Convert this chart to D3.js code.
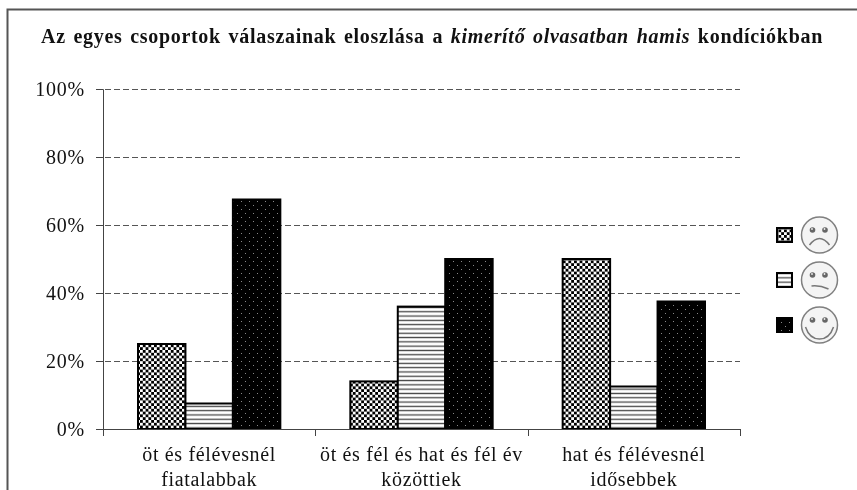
<!DOCTYPE html>
<html>
<head>
<meta charset="utf-8">
<script src="https://cdnjs.cloudflare.com/ajax/libs/d3/7.8.5/d3.min.js"></script>
<style>
html, body { margin: 0; padding: 0; background: #fff; }
svg { display: block; filter: blur(0.35px); }
text { font-family: "Liberation Serif", serif; fill: #111; }
</style>
</head>
<body>
<div id="chart"></div>
<script>
const WIDTH = 857, HEIGHT = 490;
const LEFT = 103, RIGHT = 740, TOP = 89, BOTTOM = 429;

const categories = [
    ["öt és félévesnél", "fiatalabbak"],
    ["öt és fél és hat és fél év", "közöttiek"],
    ["hat és félévesnél", "idősebbek"]
];
const sad = [25, 14, 50];
const neutral = [7.5, 36, 12.5];
const happy = [67.5, 50, 37.5];
const yTicks = [0, 20, 40, 60, 80, 100];

const seriesList = [
    { key: "sad", values: sad, fill: "url(#checker)" },
    { key: "neutral", values: neutral, fill: "url(#stripes)" },
    { key: "happy", values: happy, fill: "url(#dots)" }
];

var svg = d3.select("#chart").append("svg")
    .attr("width", WIDTH)
    .attr("height", HEIGHT);

// pattern fills
var defs = svg.append("defs");
var checker = defs.append("pattern").attr("id", "checker")
    .attr("patternUnits", "userSpaceOnUse").attr("width", 5.6).attr("height", 5.6);
checker.append("rect").attr("width", 5.6).attr("height", 5.6).attr("fill", "#fff");
checker.append("rect").attr("width", 2.8).attr("height", 2.8).attr("fill", "#000");
checker.append("rect").attr("x", 2.8).attr("y", 2.8).attr("width", 2.8).attr("height", 2.8).attr("fill", "#000");

var stripes = defs.append("pattern").attr("id", "stripes")
    .attr("patternUnits", "userSpaceOnUse").attr("width", 4.3).attr("height", 4.3);
stripes.append("rect").attr("width", 4.3).attr("height", 4.3).attr("fill", "#fff");
stripes.append("rect").attr("y", 1.5).attr("width", 4.3).attr("height", 1.3).attr("fill", "#444");

var dots = defs.append("pattern").attr("id", "dots")
    .attr("patternUnits", "userSpaceOnUse").attr("width", 8).attr("height", 8);
dots.append("rect").attr("width", 8).attr("height", 8).attr("fill", "#000");
dots.append("rect").attr("x", 1).attr("y", 1).attr("width", 1).attr("height", 1).attr("fill", "#888");
dots.append("rect").attr("x", 5).attr("y", 5).attr("width", 1).attr("height", 1).attr("fill", "#888");

// outer frame, runs off the right and bottom of the picture
svg.append("path")
    .attr("d", "M7.5," + HEIGHT + "V9.5H" + WIDTH)
    .attr("fill", "none")
    .attr("stroke", "#555")
    .attr("stroke-width", 2);

var xScale = d3.scaleBand()
    .domain(d3.range(categories.length))
    .range([LEFT, RIGHT])
    .paddingInner(0)
    .paddingOuter(0);

var yScale = d3.scaleLinear()
    .domain([0, 100])
    .range([BOTTOM, TOP]);

var innerScale = d3.scaleBand()
    .domain(seriesList.map(function (s) { return s.key; }))
    .range([35, xScale.bandwidth() - 35]);

// gridlines
svg.append("g").selectAll("line")
    .data(yTicks.filter(function (t) { return t > 0; }))
    .enter()
    .append("line")
    .attr("x1", LEFT - 7)
    .attr("x2", RIGHT)
    .attr("y1", function (d) { return Math.round(yScale(d)) + 0.5; })
    .attr("y2", function (d) { return Math.round(yScale(d)) + 0.5; })
    .attr("stroke", "#555")
    .attr("stroke-dasharray", "6,3");

// bars
seriesList.forEach(function (s) {
    svg.append("g").selectAll("rect")
        .data(s.values)
        .enter()
        .append("rect")
        .attr("x", function (d, i) { return xScale(i) + innerScale(s.key); })
        .attr("y", function (d) { return yScale(d); })
        .attr("width", innerScale.bandwidth())
        .attr("height", function (d) { return BOTTOM - yScale(d); })
        .attr("fill", s.fill)
        .attr("stroke", "#000")
        .attr("stroke-width", 2);
});

// axes
var yAxis = d3.axisLeft(yScale)
    .tickValues(yTicks)
    .tickSize(7)
    .tickPadding(11)
    .tickFormat(function (d) { return d + "%"; });
var yG = svg.append("g")
    .attr("transform", "translate(" + LEFT + ",0)")
    .call(yAxis);
yG.select(".domain").attr("stroke", "#444");
yG.selectAll(".tick line").attr("stroke", "#444");
yG.selectAll("text")
    .attr("font-family", "Liberation Serif")
    .attr("font-size", 20)
    .attr("letter-spacing", 0.8);

var xAxis = d3.axisBottom(xScale)
    .tickSize(0)
    .tickFormat("");
var xG = svg.append("g")
    .attr("transform", "translate(0," + BOTTOM + ")")
    .call(xAxis);
xG.select(".domain").attr("stroke", "#444");

// ticks sit between the categories
svg.append("g").selectAll("line")
    .data(d3.range(categories.length + 1))
    .enter()
    .append("line")
    .attr("x1", function (d) { return Math.round(LEFT + d * xScale.step()) + 0.5; })
    .attr("x2", function (d) { return Math.round(LEFT + d * xScale.step()) + 0.5; })
    .attr("y1", BOTTOM)
    .attr("y2", BOTTOM + 7)
    .attr("stroke", "#444");

// category labels
var labels = svg.append("g").selectAll("text")
    .data(categories)
    .enter()
    .append("text")
    .attr("text-anchor", "middle")
    .attr("font-size", 20)
    .attr("letter-spacing", 0.65)
    .attr("y", 461);
labels.selectAll("tspan")
    .data(function (d, i) { return d.map(function (t) { return { t: t, i: i }; }); })
    .enter()
    .append("tspan")
    .attr("x", function (d) { return xScale(d.i) + xScale.bandwidth() / 2; })
    .attr("dy", function (d, j) { return j === 0 ? 0 : 25; })
    .text(function (d) { return d.t; });

// title
var title = svg.append("text")
    .attr("x", 432)
    .attr("y", 43)
    .attr("text-anchor", "middle")
    .attr("font-size", 20)
    .attr("letter-spacing", 0.7)
    .attr("word-spacing", 2)
    .attr("font-weight", "bold");
title.append("tspan").text("Az egyes csoportok válaszainak eloszlása a ");
title.append("tspan").attr("font-style", "italic").text("kimerítő olvasatban hamis");
title.append("tspan").text(" kondíciókban");

// legend with smiley faces
var legendY = d3.scalePoint().domain(seriesList.map(function (s) { return s.key; })).range([235, 325]);
var mouths = {
    sad: "M-10,10Q0,-3 10,10",
    neutral: "M-8,6Q0,5 9,9",
    happy: "M-14,2Q-10,14 0,14Q10,14 14,2"
};
var legend = svg.append("g").selectAll("g")
    .data(seriesList)
    .enter()
    .append("g")
    .attr("transform", function (s) { return "translate(0," + legendY(s.key) + ")"; });
legend.append("rect")
    .attr("x", 777)
    .attr("y", -7)
    .attr("width", 15)
    .attr("height", 14)
    .attr("fill", function (s) { return s.fill; })
    .attr("stroke", "#000")
    .attr("stroke-width", 2);
var face = legend.append("g")
    .attr("transform", "translate(819.5,0)");
face.append("circle")
    .attr("r", 18)
    .attr("fill", "#f4f4f4")
    .attr("stroke", "#808080")
    .attr("stroke-width", 1.5);
face.append("path")
    .attr("d", function (s) { return mouths[s.key]; })
    .attr("fill", "none")
    .attr("stroke", "#777")
    .attr("stroke-width", 1.5);
[-7, 5.5].forEach(function (ex) {
    face.append("circle").attr("cx", ex).attr("cy", -5).attr("r", 2.8).attr("fill", "#666");
    face.append("circle").attr("cx", ex - 0.5).attr("cy", -6).attr("r", 0.9).attr("fill", "#eee");
});
</script>
</body>
</html>
